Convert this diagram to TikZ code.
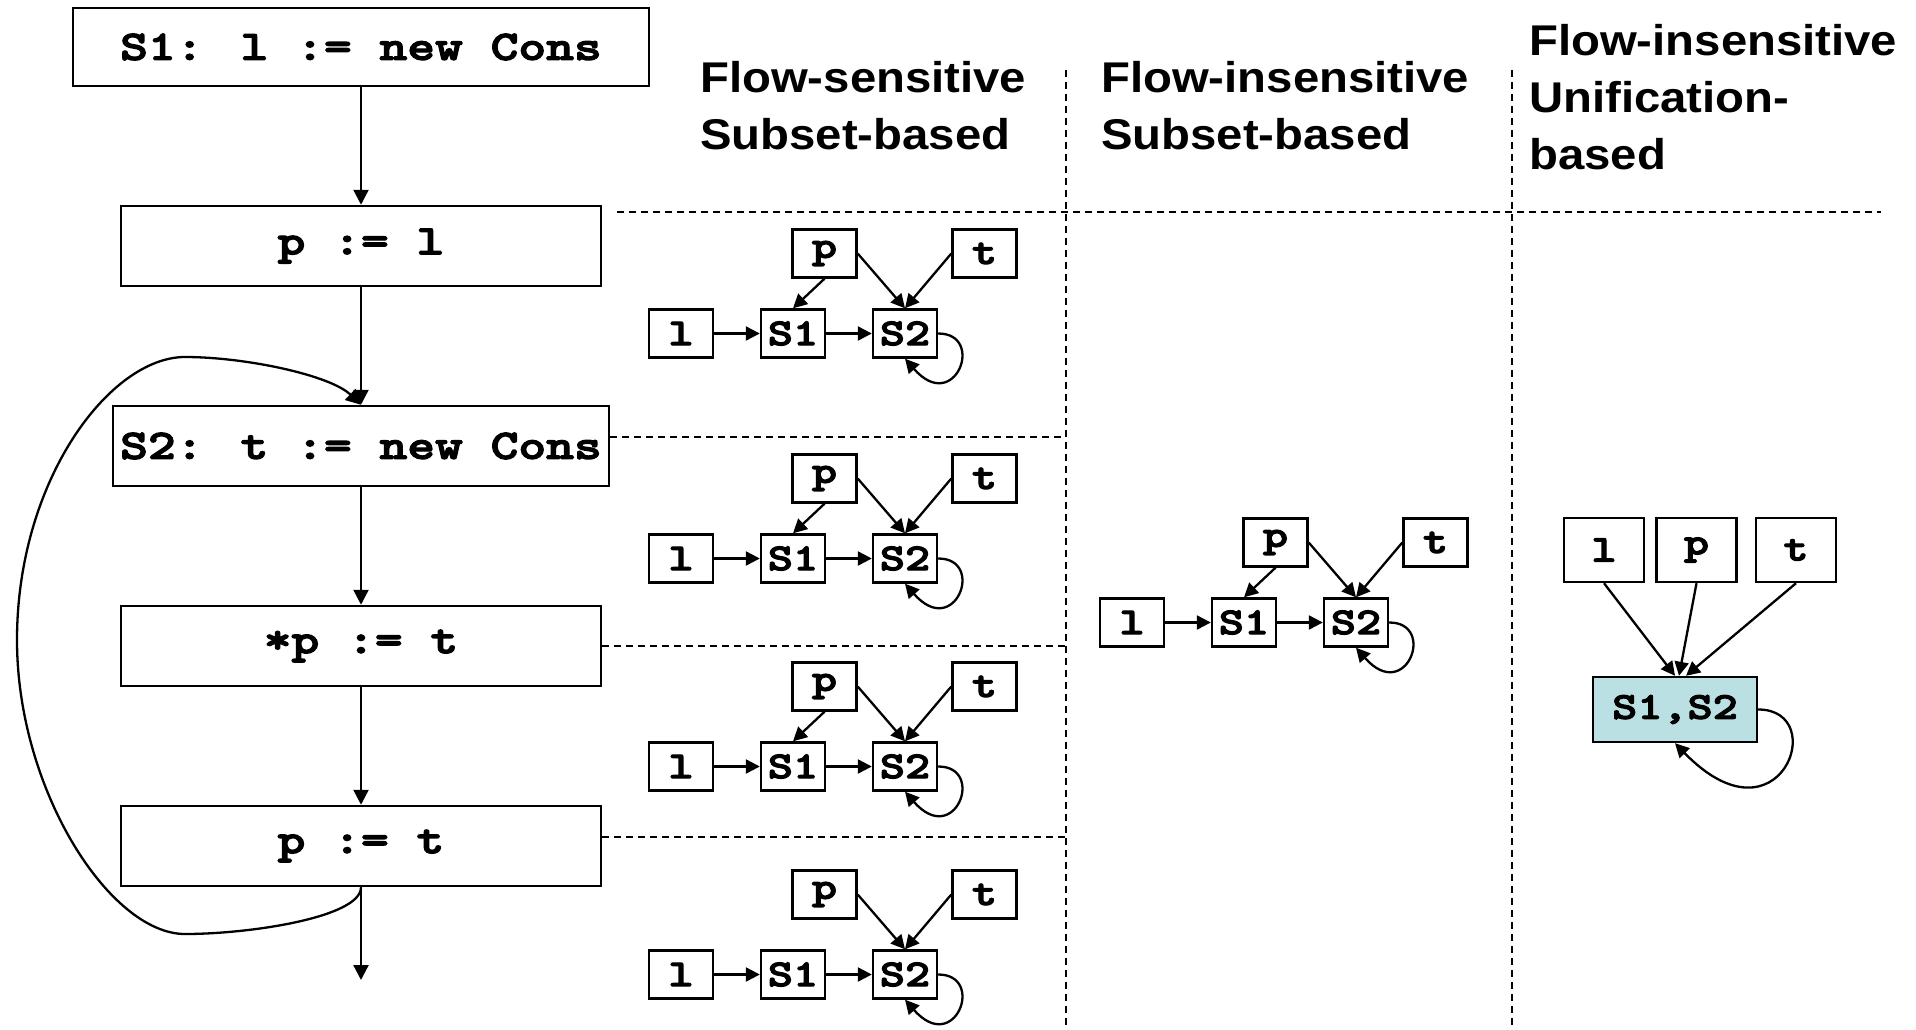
\documentclass[tikz,border=0pt]{standalone}
\usepackage{fontspec}
\usetikzlibrary{arrows.meta}
\newfontfamily\codefont{lmmonolt10-bold.otf}[FakeStretch=1.26,FakeBold=3]
\newfontfamily\headfont{Liberation Sans}[FakeStretch=1.1]
\definecolor{unif}{HTML}{BBE0E3}
\tikzset{
  stmt/.style={draw, line width=2.5pt, inner sep=0pt, minimum height=80pt,
    font=\codefont\fontsize{42}{48}\selectfont},
  var/.style={draw, line width=2.4pt, minimum width=64pt, minimum height=48pt, inner sep=0pt,
    font=\codefont\fontsize{38}{42}\selectfont},
  bigvar/.style={var, minimum width=80pt, minimum height=64pt},
  flow/.style={line width=2.3pt, -{Triangle[length=15pt,width=15pt]}},
  ptr/.style={line width=2.3pt, -{Triangle[length=14pt,width=14pt]}},
  sep/.style={line width=1.6pt, dash pattern=on 7pt off 5pt},
  head/.style={anchor=north west, inner sep=0pt, align=left,
    font=\headfont\bfseries\fontsize{43}{57}\selectfont}
}
\newcommand\ptgraph[4]{%
  \begin{scope}[shift={(#2,#3)}]
    \node[var] (#1p) at (175.5,24.5) {p};
    \node[var] (#1t) at (335.5,24.5) {t};
    \node[var] (#1l) at (32,104.5) {l};
    \node[var] (#1a) at (144,104.5) {S1};
    \node[var] (#1b) at (256,104.5) {S2};
  \end{scope}
  \draw[ptr] (#1l) -- (#1a);
  \draw[ptr] (#1a) -- (#1b);
  \ifnum#4=1 \draw[ptr] (#1p.south) -- (#1a.north);\fi
  \draw[ptr] (#1p.east) -- (#1b.north);
  \draw[ptr] (#1t.west) -- (#1b.north);
  \draw[ptr] (#1b.east) .. controls +(48,0) and +(50,57) .. (#1b.south);
}
\begin{document}
\begin{tikzpicture}[x=1pt,y=-1pt]
\useasboundingbox (0,0) rectangle (1916,1030);

% flow chart
\node[stmt, minimum width=576pt, minimum height=78pt] (b1) at (361,47) {S1: l := new Cons};
\node[stmt, minimum width=480pt] (b2) at (361,246) {p := l};
\node[stmt, minimum width=496pt] (b3) at (361,446) {S2: t := new Cons};
\node[stmt, minimum width=480pt] (b4) at (361,646) {*p := t};
\node[stmt, minimum width=480pt] (b5) at (361,846) {p := t};
\coordinate (exit) at (361,980);
\draw[flow] (b1) -- (b2);
\draw[flow] (b2) -- (b3);
\draw[flow] (b3) -- (b4);
\draw[flow] (b4) -- (b5);
\draw[flow] (b5.south) -- (exit);
\coordinate (lbot) at (185,934);
\coordinate (lleft) at (17,640);
\coordinate (ltop) at (185,357);
\draw[flow] (b5.south) .. controls +(0,30) and (250,934) .. (lbot)
  .. controls (110,934) and (17,790) .. (lleft)
  .. controls (17,480) and (110,357) .. (ltop)
  .. controls (245,357) and (330,375) .. (b3.north);

% separators
\draw[sep] (617,212) -- (1881,212);
\draw[sep] (1066,70) -- (1066,1030);
\draw[sep] (1512,70) -- (1512,1030);
\draw[sep] (b3.east |- 0,437) -- (1066,437);
\draw[sep] (b4.east) -- (1066,646);
\draw[sep] (b5.east |- 0,837) -- (1066,837);

% headers
\node[head] (h1) at (700,61) {Flow-sensitive\\Subset-based};
\node[head] (h2) at (1101,61) {Flow-insensitive\\Subset-based};
\node[head] (h3) at (1529,24) {Flow-insensitive\\Unification-\\based};

% flow-sensitive graphs
\ptgraph{ra}{649}{229}{1}
\ptgraph{rb}{649}{454}{1}
\ptgraph{rc}{649}{662}{1}
\ptgraph{rd}{649}{870}{0}
% flow-insensitive subset
\ptgraph{m}{1100}{518}{1}

% unification
\node[bigvar] (ul) at (1604,550) {l};
\node[bigvar] (up) at (1696.5,550) {p};
\node[bigvar] (ut) at (1796,550) {t};
\node[var, fill=unif, minimum width=164pt, minimum height=65pt] (us) at (1675,709.5) {S1,S2};
\draw[ptr] (ul.south) -- (us.north);
\draw[ptr] (up.south) -- ([xshift=4pt]us.north);
\draw[ptr] (ut.south) -- ([xshift=11pt]us.north);
\draw[ptr] (us.east) .. controls +(73,0) and +(105,108) .. (us.south);
\end{tikzpicture}
\end{document}
